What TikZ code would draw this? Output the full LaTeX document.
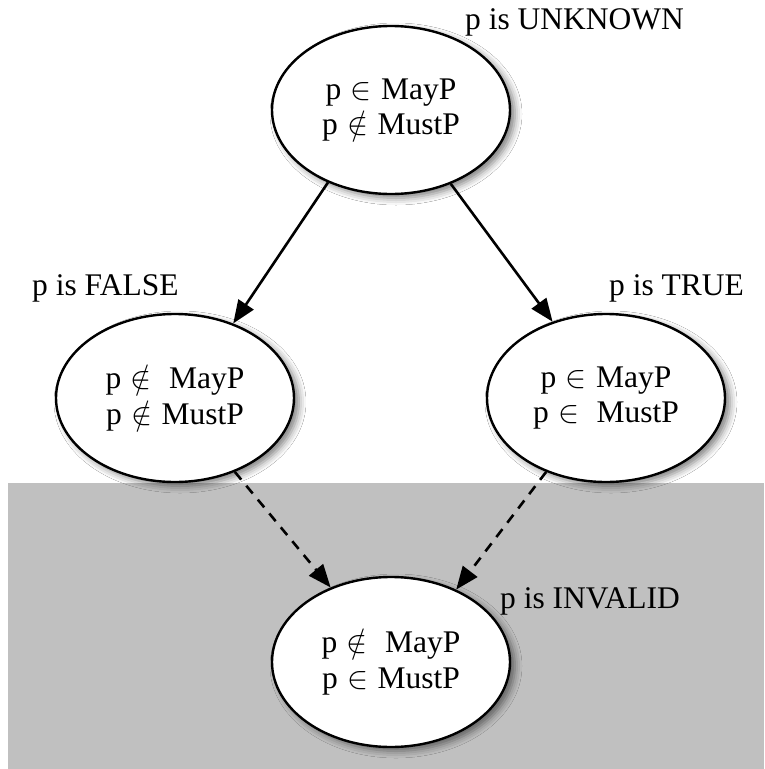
\RequirePackage{fix-cm}
\documentclass[tikz,border=0pt]{standalone}
\usepackage{fontspec}
\setmainfont{Liberation Serif}
\usetikzlibrary{arrows.meta,shapes.geometric,shadows.blur}
\definecolor{panel}{RGB}{192,192,192}
\newcommand{\gp}{\hspace{1.5pt}}
\begin{document}
\begin{tikzpicture}[x=1pt,y=-1pt,
  state/.style={ellipse, draw, line width=2.4pt, fill=white,
    minimum width=238pt, minimum height=168pt, inner sep=0pt, align=center,
    font=\fontsize{31.5}{35.5}\selectfont,
    blur shadow={shadow xshift=5pt, shadow yshift=-4pt, shadow blur radius=7pt, shadow opacity=50}},
  lbl/.style={font=\fontsize{31.5}{35.5}\selectfont, inner sep=0pt, anchor=base west},
  solidarrow/.style={-{Triangle[length=23pt,width=18pt]}, line width=2.6pt},
  dasharrow/.style={solidarrow, dash pattern=on 10pt off 8pt}]
\fill[white] (0,0) rectangle (764,769);
\useasboundingbox (0,0) rectangle (764,769);
\fill[panel] (8,483) rectangle (764,769);

\node[state] (top) at (391,110) {p \gp$\in$ \gp MayP\\p \gp$\notin$ \gp MustP};
\node[state] (left) at (175,398) {p \gp$\notin$ ~\gp MayP\\p \gp$\notin$ \gp MustP};
\node[state] (right) at (606,398) {p \gp$\in$ \gp MayP\\p \gp$\in$ ~\gp MustP};
\node[state, minimum height=170pt] (bottom) at (391,662) {p \gp$\notin$ ~\gp MayP\\p \gp$\in$ \gp MustP};

\node[lbl] (lunknown) at (465,29) {p is UNKNOWN};
\node[lbl] (lfalse) at (32,295) {p is FALSE};
\node[lbl] (ltrue) at (609,295) {p is TRUE};
\node[lbl] (linvalid) at (500,608) {p is INVALID};

\draw[solidarrow] (top.229.7) -- (left.52.3);
\draw[solidarrow] (top.309.3) -- (right.125.8);
\draw[dasharrow] (left.309.4) -- (bottom.129.9);
\draw[dasharrow] (right.231.5) -- (bottom.48.4);
\end{tikzpicture}
\end{document}
